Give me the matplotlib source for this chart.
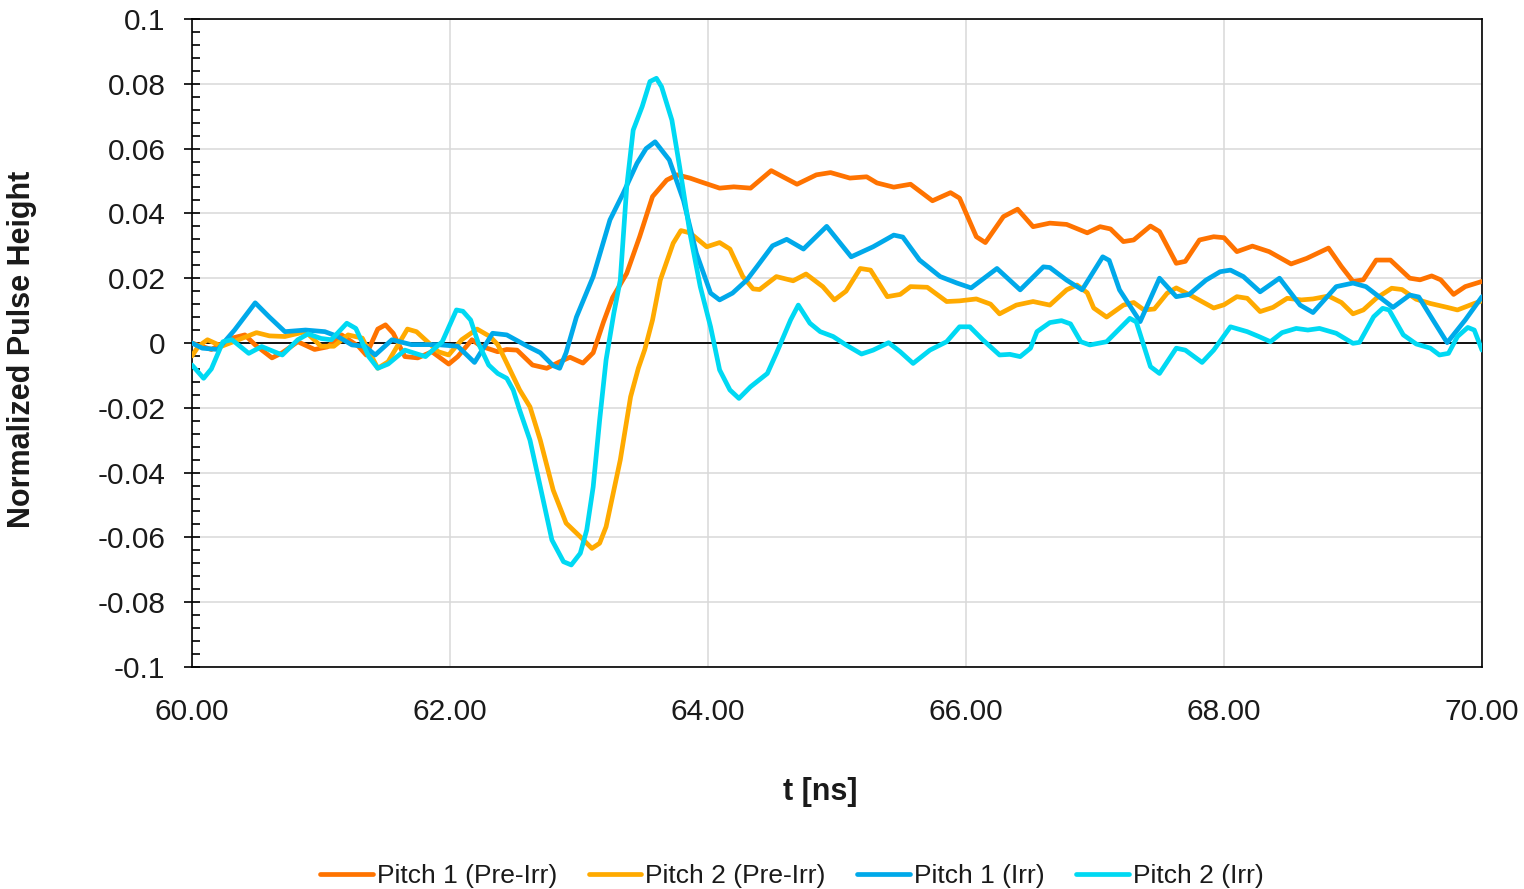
import matplotlib
matplotlib.use("Agg")
import matplotlib.pyplot as plt
from matplotlib.ticker import MultipleLocator, FuncFormatter

# ----------------------------
# Pulse data (t in ns, normalized height)
# ----------------------------
t_p1_pre = [60.00, 60.15, 60.31, 60.41, 60.49, 60.62, 60.70, 60.82, 60.95, 61.05,
            61.16, 61.29, 61.35, 61.44, 61.50, 61.56, 61.65, 61.75, 61.86, 61.99,
            62.06, 62.17, 62.24, 62.37, 62.44, 62.52, 62.64, 62.75, 62.85, 62.93,
            63.03, 63.11, 63.19, 63.26, 63.37, 63.47, 63.57, 63.68, 63.76, 63.86,
            63.94, 64.09, 64.20, 64.33, 64.49, 64.69, 64.84, 64.95, 65.10, 65.23,
            65.31, 65.44, 65.57, 65.74, 65.88, 65.95, 66.08, 66.15, 66.29, 66.40,
            66.52, 66.65, 66.78, 66.94, 67.04, 67.12, 67.22, 67.30, 67.43, 67.50,
            67.63, 67.70, 67.81, 67.92, 68.00, 68.10, 68.22, 68.35, 68.52, 68.64,
            68.81, 68.91, 69.00, 69.08, 69.18, 69.29, 69.44, 69.52, 69.61, 69.68,
            69.78, 69.87, 70.00]
h_p1_pre = [0.0000, -0.0020, 0.0015, 0.0025, -0.0006, -0.0046, -0.0030, 0.0004, -0.0020, -0.0012,
            0.0025, -0.0010, -0.0037, 0.0043, 0.0056, 0.0030, -0.0042, -0.0046, -0.0027, -0.0065,
            -0.0042, 0.0010, -0.0010, -0.0027, -0.0020, -0.0022, -0.0068, -0.0078, -0.0058, -0.0044,
            -0.0062, -0.0030, 0.0065, 0.0140, 0.0215, 0.0328, 0.0452, 0.0503, 0.0519, 0.0509,
            0.0498, 0.0478, 0.0482, 0.0478, 0.0532, 0.0490, 0.0519, 0.0526, 0.0509, 0.0513,
            0.0494, 0.0481, 0.0490, 0.0439, 0.0464, 0.0447, 0.0328, 0.0310, 0.0390, 0.0413,
            0.0359, 0.0370, 0.0366, 0.0340, 0.0359, 0.0352, 0.0313, 0.0318, 0.0361, 0.0344,
            0.0246, 0.0252, 0.0318, 0.0328, 0.0325, 0.0282, 0.0299, 0.0282, 0.0244, 0.0261,
            0.0293, 0.0236, 0.0190, 0.0195, 0.0256, 0.0256, 0.0200, 0.0195, 0.0207, 0.0195,
            0.0150, 0.0174, 0.0190]

t_p2_pre = [60.00, 60.05, 60.12, 60.23, 60.36, 60.50, 60.60, 60.72, 60.88, 61.00,
            61.10, 61.21, 61.32, 61.44, 61.52, 61.67, 61.74, 61.91, 61.99, 62.09,
            62.21, 62.31, 62.37, 62.44, 62.54, 62.62, 62.70, 62.80, 62.90, 63.01,
            63.10, 63.16, 63.21, 63.32, 63.40, 63.46, 63.51, 63.57, 63.63, 63.73,
            63.79, 63.86, 63.99, 64.09, 64.17, 64.27, 64.35, 64.40, 64.53, 64.66,
            64.76, 64.89, 64.98, 65.07, 65.18, 65.26, 65.39, 65.49, 65.57, 65.70,
            65.85, 65.95, 66.08, 66.19, 66.26, 66.39, 66.52, 66.65, 66.78, 66.86,
            66.94, 66.99, 67.09, 67.22, 67.30, 67.38, 67.46, 67.56, 67.63, 67.76,
            67.92, 68.00, 68.10, 68.18, 68.28, 68.38, 68.49, 68.60, 68.69, 68.81,
            68.91, 69.00, 69.08, 69.18, 69.30, 69.38, 69.49, 69.60, 69.73, 69.81,
            69.94, 70.00]
h_p2_pre = [-0.0040, -0.0010, 0.0010, -0.0010, 0.0010, 0.0032, 0.0022, 0.0020, 0.0035, -0.0010,
            -0.0010, 0.0025, 0.0015, -0.0078, -0.0058, 0.0043, 0.0035, -0.0027, -0.0037, 0.0010,
            0.0043, 0.0020, -0.0005, -0.0062, -0.0145, -0.0197, -0.0300, -0.0454, -0.0556, -0.0598,
            -0.0634, -0.0618, -0.0567, -0.0361, -0.0166, -0.0078, -0.0020, 0.0071, 0.0194, 0.0308,
            0.0347, 0.0340, 0.0297, 0.0310, 0.0290, 0.0205, 0.0167, 0.0165, 0.0205, 0.0192,
            0.0213, 0.0174, 0.0133, 0.0160, 0.0230, 0.0225, 0.0143, 0.0150, 0.0174, 0.0172,
            0.0128, 0.0130, 0.0136, 0.0120, 0.0090, 0.0117, 0.0128, 0.0117, 0.0164, 0.0179,
            0.0155, 0.0108, 0.0080, 0.0117, 0.0125, 0.0102, 0.0105, 0.0154, 0.0170, 0.0143,
            0.0108, 0.0118, 0.0143, 0.0138, 0.0097, 0.0110, 0.0138, 0.0133, 0.0136, 0.0145,
            0.0125, 0.0090, 0.0102, 0.0138, 0.0169, 0.0165, 0.0135, 0.0122, 0.0110, 0.0102,
            0.0122, 0.0130]

t_p1_irr = [60.00, 60.08, 60.20, 60.33, 60.49, 60.60, 60.72, 60.88, 61.03, 61.13,
            61.24, 61.34, 61.42, 61.55, 61.70, 61.90, 62.06, 62.19, 62.33, 62.44,
            62.60, 62.70, 62.80, 62.85, 62.90, 62.98, 63.11, 63.24, 63.34, 63.45,
            63.52, 63.59, 63.70, 63.81, 63.91, 64.02, 64.09, 64.19, 64.30, 64.38,
            64.50, 64.61, 64.74, 64.92, 65.11, 65.28, 65.44, 65.51, 65.64, 65.80,
            65.93, 66.04, 66.24, 66.42, 66.60, 66.65, 66.78, 66.90, 67.06, 67.11,
            67.19, 67.35, 67.50, 67.63, 67.73, 67.86, 67.97, 68.05, 68.15, 68.28,
            68.43, 68.59, 68.69, 68.87, 69.00, 69.10, 69.31, 69.44, 69.51, 69.62,
            69.73, 69.87, 70.00]
h_p1_irr = [0.0000, -0.0016, -0.0020, 0.0040, 0.0124, 0.0080, 0.0035, 0.0040, 0.0035, 0.0020,
            -0.0006, -0.0010, -0.0037, 0.0010, -0.0005, -0.0005, -0.0010, -0.0060, 0.0030, 0.0025,
            -0.0010, -0.0030, -0.0070, -0.0078, -0.0030, 0.0080, 0.0205, 0.0380, 0.0460, 0.0555,
            0.0600, 0.0621, 0.0565, 0.0440, 0.0277, 0.0154, 0.0133, 0.0154, 0.0194, 0.0236,
            0.0300, 0.0320, 0.0290, 0.0360, 0.0266, 0.0297, 0.0333, 0.0327, 0.0256, 0.0205,
            0.0185, 0.0170, 0.0230, 0.0164, 0.0235, 0.0233, 0.0194, 0.0164, 0.0266, 0.0255,
            0.0164, 0.0066, 0.0200, 0.0143, 0.0150, 0.0194, 0.0220, 0.0225, 0.0205, 0.0158,
            0.0200, 0.0117, 0.0094, 0.0174, 0.0185, 0.0174, 0.0110, 0.0148, 0.0142, 0.0071,
            0.0001, 0.0071, 0.0143]

t_p2_irr = [60.00, 60.09, 60.15, 60.24, 60.31, 60.44, 60.54, 60.70, 60.82, 60.90,
            61.00, 61.08, 61.20, 61.27, 61.37, 61.44, 61.52, 61.65, 61.81, 61.94,
            62.05, 62.10, 62.16, 62.22, 62.30, 62.37, 62.44, 62.49, 62.54, 62.62,
            62.70, 62.79, 62.88, 62.94, 63.01, 63.06, 63.11, 63.16, 63.21, 63.27,
            63.32, 63.37, 63.42, 63.49, 63.55, 63.60, 63.64, 63.72, 63.78, 63.86,
            63.94, 64.02, 64.09, 64.17, 64.24, 64.33, 64.46, 64.53, 64.64, 64.70,
            64.79, 64.87, 64.97, 65.07, 65.19, 65.28, 65.40, 65.49, 65.59, 65.72,
            65.85, 65.95, 66.03, 66.13, 66.26, 66.34, 66.42, 66.50, 66.55, 66.65,
            66.74, 66.81, 66.89, 66.96, 67.09, 67.27, 67.32, 67.43, 67.50, 67.63,
            67.70, 67.83, 67.92, 68.05, 68.18, 68.27, 68.36, 68.45, 68.56, 68.65,
            68.74, 68.87, 69.00, 69.05, 69.16, 69.23, 69.28, 69.39, 69.49, 69.60,
            69.67, 69.74, 69.81, 69.89, 69.94, 70.00]
h_p2_irr = [-0.0068, -0.0109, -0.0080, 0.0004, 0.0010, -0.0032, -0.0011, -0.0037, 0.0010, 0.0028,
            0.0014, 0.0010, 0.0061, 0.0045, -0.0042, -0.0078, -0.0065, -0.0022, -0.0042, 0.0004,
            0.0102, 0.0098, 0.0071, -0.0001, -0.0068, -0.0094, -0.0109, -0.0145, -0.0207, -0.0300,
            -0.0444, -0.0608, -0.0675, -0.0685, -0.0649, -0.0577, -0.0444, -0.0238, -0.0052, 0.0092,
            0.0194, 0.0482, 0.0657, 0.0730, 0.0807, 0.0817, 0.0791, 0.0688, 0.0544, 0.0339,
            0.0174, 0.0050, -0.0083, -0.0145, -0.0171, -0.0135, -0.0094, -0.0032, 0.0071, 0.0117,
            0.0061, 0.0035, 0.0020, -0.0006, -0.0034, -0.0022, 0.0001, -0.0027, -0.0063, -0.0022,
            0.0004, 0.0050, 0.0050, 0.0010, -0.0037, -0.0035, -0.0042, -0.0016, 0.0035, 0.0063,
            0.0069, 0.0059, 0.0004, -0.0006, 0.0004, 0.0076, 0.0065, -0.0073, -0.0094, -0.0016,
            -0.0022, -0.0060, -0.0022, 0.0050, 0.0035, 0.0020, 0.0004, 0.0032, 0.0045, 0.0040,
            0.0045, 0.0030, -0.0001, 0.0002, 0.0081, 0.0107, 0.0102, 0.0025, -0.0003, -0.0016,
            -0.0037, -0.0032, 0.0020, 0.0048, 0.0040, -0.0022]

SERIES = [
    ("Pitch 1 (Pre-Irr)", t_p1_pre, h_p1_pre, "#FF7300"),
    ("Pitch 2 (Pre-Irr)", t_p2_pre, h_p2_pre, "#FFAA00"),
    ("Pitch 1 (Irr)",     t_p1_irr, h_p1_irr, "#00A9EA"),
    ("Pitch 2 (Irr)",     t_p2_irr, h_p2_irr, "#00D9F3"),
]


def y_label(v, pos):
    v = round(v, 3) + 0.0  # avoid "-0"
    return f"{v:g}"


# ----------------------------
# Plot
# ----------------------------
plt.rcParams["font.family"] = ["Liberation Sans", "DejaVu Sans"]
TXT = "#1a1a1a"

fig = plt.figure(figsize=(15.24, 8.89), dpi=100)
ax = fig.add_axes([192 / 1524, 1 - 667 / 889, 1290 / 1524, 648 / 889])

for label, t, h, c in SERIES:
    ax.plot(t, h, color=c, linewidth=3.4, label=label,
            solid_joinstyle="round", solid_capstyle="round", zorder=3)

ax.axhline(0, color="black", linewidth=1.3, zorder=2)

ax.set_xlim(60, 70)
ax.set_ylim(-0.1, 0.1)
ax.xaxis.set_major_locator(MultipleLocator(2))
ax.yaxis.set_major_locator(MultipleLocator(0.02))
ax.yaxis.set_minor_locator(MultipleLocator(0.004))
ax.xaxis.set_major_formatter(FuncFormatter(lambda v, p: f"{v:.2f}"))
ax.yaxis.set_major_formatter(FuncFormatter(y_label))

ax.grid(True, which="major", color="#D9D9D9", linewidth=1.1, zorder=0)
ax.set_axisbelow(True)

for s in ax.spines.values():
    s.set_color("black")
    s.set_linewidth(1.2)

ax.tick_params(axis="x", length=0, pad=22, labelsize=21.5, labelcolor=TXT)
ax.tick_params(axis="y", which="major", direction="inout", length=12, width=1.2,
               pad=13, labelsize=21.5, labelcolor=TXT)
ax.tick_params(axis="y", which="minor", direction="in", length=6, width=1.2)

ax.set_xlabel("t [ns]", fontsize=22, fontweight="bold", color=TXT)
ax.xaxis.set_label_coords(628 / 1290, -125 / 648)
ax.xaxis.label.set_va("center")
ax.set_ylabel("Normalized Pulse Height", fontsize=22, fontweight="bold", color=TXT)
ax.yaxis.set_label_coords(-170 / 1290, 318 / 648)
ax.yaxis.label.set_va("center")

fig.legend(loc="center", bbox_to_anchor=(792 / 1524, 1 - 876 / 889), ncol=4,
           frameon=False, fontsize=19, handlelength=2.0, handletextpad=0.15,
           columnspacing=1.2, labelcolor=TXT)

fig.savefig("out.png", dpi=100)
